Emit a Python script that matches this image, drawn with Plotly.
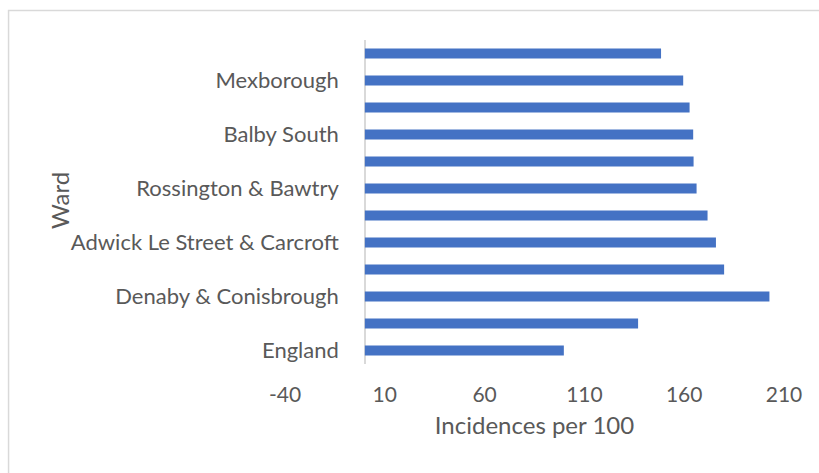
import plotly.graph_objects as go

# Data (bottom to top, as drawn). Unlabelled wards were hidden in the original axis.
wards = ["England", "", "Denaby & Conisbrough", "", "Adwick Le Street & Carcroft", "",
         "Rossington & Bawtry", "", "Balby South", "", "Mexborough", ""]
values = [99.7, 136.9, 202.7, 180.0, 175.9, 171.7, 166.2, 164.7, 164.5, 162.7, 159.5, 148.4]
x_ticks = [-40, 10, 60, 110, 160, 210]

W, H = 819, 473
L, R, T, B = 284.5, 34.5, 40, 109
pw, ph = W - L - R, H - T - B

positions = list(range(len(values)))

fig = go.Figure(go.Bar(
    x=values, y=positions, orientation="h",
    marker=dict(color="#4472C4", line=dict(width=0)),
    width=0.37,
))

font = "Lato"
txt = "#595959"

def px_x(p):
    return (p - L) / pw

def px_y(p):
    return (H - B - p) / ph

fig.update_layout(
    width=W, height=H,
    margin=dict(l=L, r=R, t=T, b=B, autoexpand=False),
    paper_bgcolor="white", plot_bgcolor="white",
    showlegend=False,
    font=dict(family=font, color=txt, size=21),
    xaxis=dict(
        range=[-40, 210], tickvals=x_ticks, ticktext=[str(v) for v in x_ticks],
        showgrid=False, zeroline=True, zerolinecolor="#d9d9d9", zerolinewidth=1.5,
        showline=False, ticks="", tickfont=dict(size=21, color=txt),
        ticklabelstandoff=16,
        title=dict(text="Incidences per 100", font=dict(size=24, color=txt), standoff=12),
    ),
    yaxis=dict(
        range=[-0.5, len(values) - 0.5],
        tickvals=[i for i, w in enumerate(wards) if w],
        ticktext=[w for w in wards if w],
        anchor="free", position=(0 - (-40)) / 250,
        showgrid=False, zeroline=False, showline=False, ticks="",
        ticklabelstandoff=26,
        tickfont=dict(size=22, color=txt),
    ),
    annotations=[dict(
        text="Ward", textangle=-90, showarrow=False,
        xref="paper", yref="paper", x=px_x(58), y=px_y(200),
        xanchor="center", yanchor="middle", font=dict(size=24, color=txt),
    )],
    shapes=[dict(
        type="rect", xref="paper", yref="paper",
        x0=px_x(7.5), x1=px_x(840), y0=px_y(10.5), y1=px_y(500),
        line=dict(color="#d9d9d9", width=1.5), fillcolor="rgba(0,0,0,0)", layer="below",
    )],
)

fig.write_html("out.html", config={"displayModeBar": False},
               post_script="document.body.style.margin='0';document.body.style.overflow='hidden';")
